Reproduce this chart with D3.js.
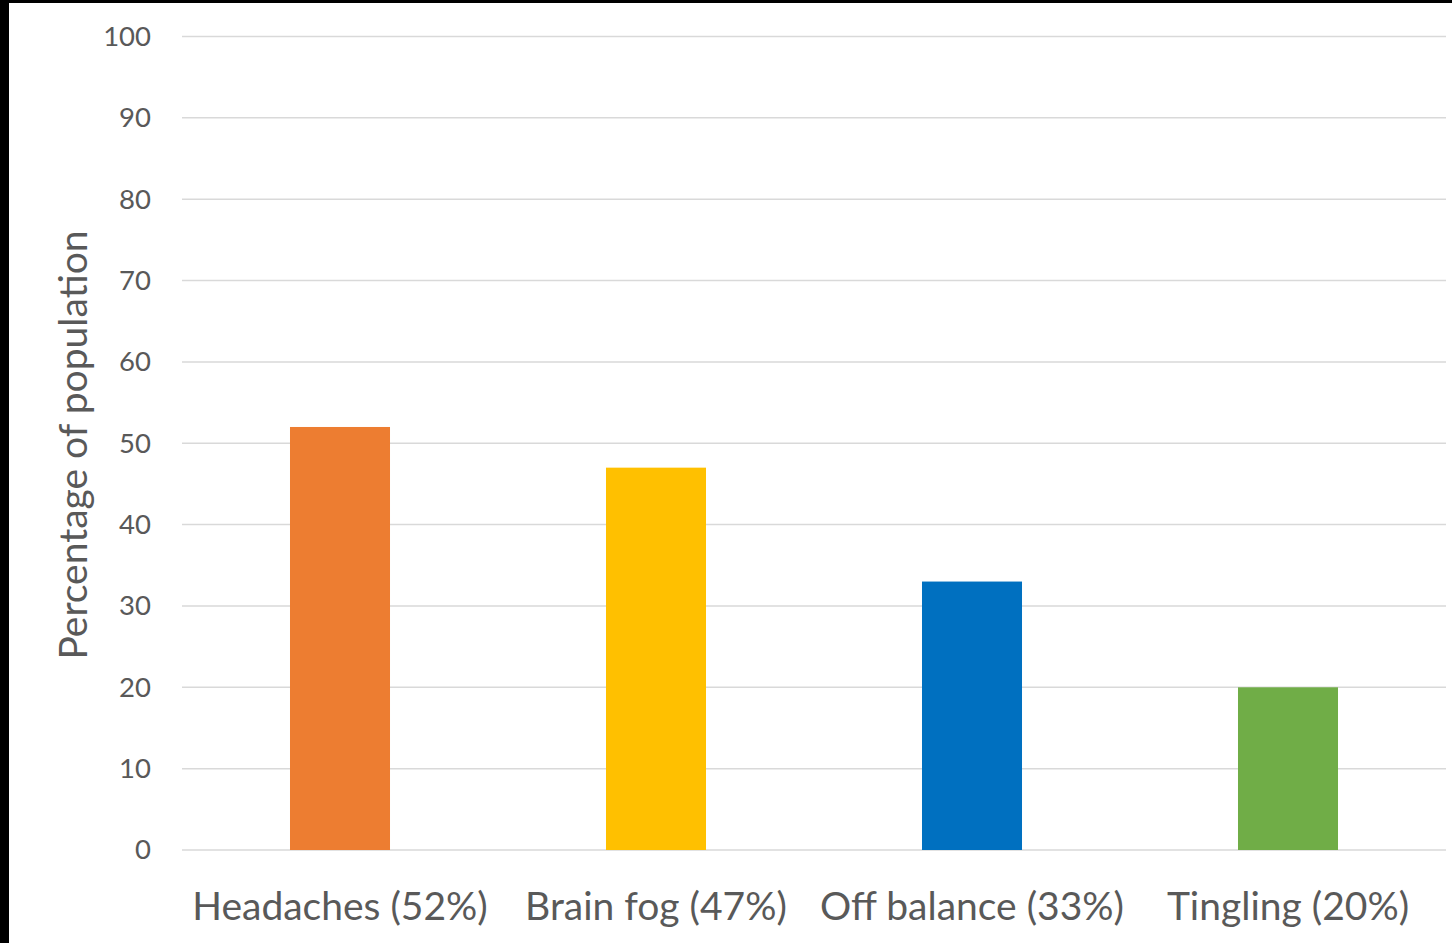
<!DOCTYPE html>
<html>
<head>
<meta charset="utf-8">
<script src="https://cdn.jsdelivr.net/npm/d3@7"></script>
<style>
  html, body { margin: 0; padding: 0; background: #000; }
  svg { display: block; }
</style>
</head>
<body>
<svg id="chart" width="1452" height="943"></svg>
<script>
// Reported symptoms, share of population (%)
const categories = ["Headaches (52%)", "Brain fog (47%)", "Off balance (33%)", "Tingling (20%)"];
const values = [52, 47, 33, 20];
const colors = ["#ED7D31", "#FFC000", "#0070C0", "#70AD47"];
const yTicks = [0, 10, 20, 30, 40, 50, 60, 70, 80, 90, 100];
const yTitle = "Percentage of population";

const W = 1452, H = 943;
const svg = d3.select("#chart");
const font = "Lato, 'Open Sans', sans-serif";
const textColor = "#595959";

// white chart area inside a thin dark frame on the left and top
svg.append("rect").attr("x", 9).attr("y", 3).attr("width", W - 9).attr("height", H - 3).attr("fill", "#fff");

const plot = { left: 182, right: 1446, top: 36.5, bottom: 850 };

const x = d3.scaleBand()
  .domain(categories)
  .range([plot.left, plot.right])
  .paddingInner(0.6835)
  .paddingOuter(0.6835 / 2);

const y = d3.scaleLinear().domain([0, 100]).range([plot.bottom, plot.top]);

// gridlines
svg.append("g")
  .selectAll("line")
  .data(yTicks)
  .join("line")
  .attr("x1", plot.left).attr("x2", plot.right)
  .attr("y1", d => y(d)).attr("y2", d => y(d))
  .attr("stroke", "#D9D9D9").attr("stroke-width", 1.5);

// y axis labels
const yAxis = svg.append("g")
  .attr("transform", `translate(${plot.left},0)`)
  .call(d3.axisLeft(y).tickValues(yTicks).tickSize(0).tickPadding(31));
yAxis.select(".domain").remove();
yAxis.selectAll("text")
  .attr("font-family", font).attr("font-size", 27.5).attr("fill", textColor);

// bars
svg.append("g")
  .selectAll("rect")
  .data(values)
  .join("rect")
  .attr("x", (d, i) => x(categories[i]))
  .attr("width", x.bandwidth())
  .attr("y", d => y(d))
  .attr("height", d => y(0) - y(d))
  .attr("fill", (d, i) => colors[i]);

// x axis labels
const xAxis = svg.append("g")
  .attr("transform", `translate(0,${plot.bottom})`)
  .call(d3.axisBottom(x).tickSize(0).tickPadding(42));
xAxis.select(".domain").remove();
xAxis.selectAll("text")
  .attr("font-family", font).attr("font-size", 39).attr("fill", textColor);

// y axis title
svg.append("text")
  .attr("transform", `translate(87,445) rotate(-90)`)
  .attr("text-anchor", "middle")
  .attr("font-family", font).attr("font-size", 39).attr("fill", textColor)
  .text(yTitle);
</script>
</body>
</html>
